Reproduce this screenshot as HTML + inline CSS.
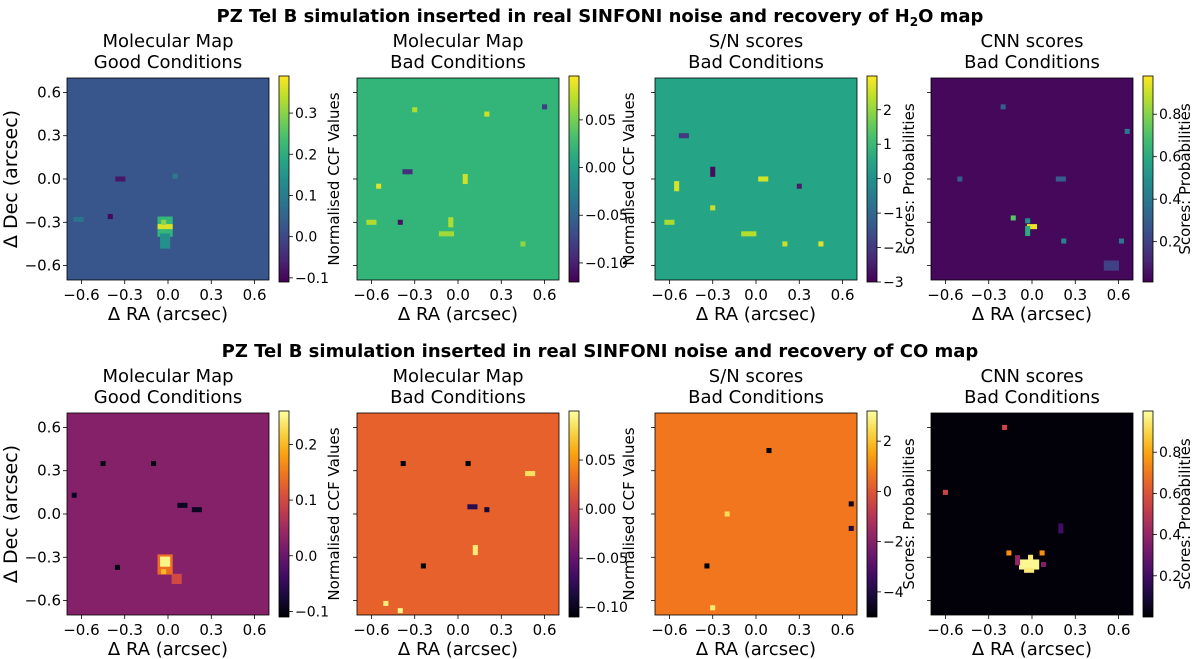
<!DOCTYPE html>
<html><head><meta charset="utf-8">
<style>
html,body{margin:0;padding:0;background:#fff;}
svg{display:block;font-family:"DejaVu Sans","Liberation Sans",sans-serif;}
</style></head>
<body>
<svg id="fig" width="1200" height="659" viewBox="0 0 1200 659" xmlns="http://www.w3.org/2000/svg">
<defs id="defs"></defs>
<text x="600" y="22" text-anchor="middle" font-size="18" font-weight="bold">PZ Tel B simulation inserted in real SINFONI noise and recovery of H<tspan font-size="12" dy="4">2</tspan><tspan dy="-4">O map</tspan></text>
<text x="600" y="357" text-anchor="middle" font-size="18" font-weight="bold">PZ Tel B simulation inserted in real SINFONI noise and recovery of CO map</text>
<g id="plots"></g>
</svg>
<script>
// ---- data ----
const raTicks = [-0.6, -0.3, 0.0, 0.3, 0.6];
const decTicks = [-0.6, -0.3, 0.0, 0.3, 0.6];
const panelTitles = [["Molecular Map","Good Conditions"],["Molecular Map","Bad Conditions"],["S/N scores","Bad Conditions"],["CNN scores","Bad Conditions"]];
const cbarLabels = ["Normalised CCF Values","Normalised CCF Values","Scores: Probabilities","Scores: Probabilities"];
const cmaps = ["viridis","inferno"];
const ranges = [[-0.11,0.39],[-0.12,0.096],[-3,2.98],[0.01,0.98],[-0.11,0.26],[-0.11,0.10],[-5,3.2],[0.0,1.0]];
const cbarTicks = [[-0.1,0.0,0.1,0.2,0.3],[-0.10,-0.05,0.00,0.05],[-3,-2,-1,0,1,2],[0.2,0.4,0.6,0.8],
                   [-0.1,0.0,0.1,0.2],[-0.10,-0.05,0.00,0.05],[-4,-2,0,2],[0.2,0.4,0.6,0.8]];
const cbarTickText = [["−0.1","0.0","0.1","0.2","0.3"],["−0.10","−0.05","0.00","0.05"],["−3","−2","−1","0","1","2"],["0.2","0.4","0.6","0.8"],
                      ["−0.1","0.0","0.1","0.2"],["−0.10","−0.05","0.00","0.05"],["−4","−2","0","2"],["0.2","0.4","0.6","0.8"]];
const background = [0.025, 0.022, 0.5, 0.03, 0.025, 0.025, 0.7, 0.01];
// features per map: [ra, dec, value, wCells, hCells]
const features = [
 [[-0.02,-0.33,0.22,3,4],[-0.02,-0.33,0.36,3,1],[-0.03,-0.30,0.3,1,1],[-0.02,-0.43,0.14,2,3],[-0.62,-0.28,0.08,2,1],[-0.4,-0.26,-0.1,1,1],[-0.33,0.0,-0.08,2,1],[0.05,0.02,0.1,1,1]],
 [[-0.55,-0.05,0.085,1,1],[-0.6,-0.3,0.07,2,1],[0.05,0.0,0.08,1,2],[-0.08,-0.38,0.065,3,1],[-0.05,-0.3,0.07,1,2],[0.2,0.45,0.08,1,1],[-0.4,-0.3,-0.11,1,1],[-0.3,0.48,0.07,1,1],[0.45,-0.45,0.06,1,1],[-0.35,0.05,-0.09,2,1],[0.6,0.5,-0.08,1,1]],
 [[-0.55,-0.05,2.6,1,2],[-0.6,-0.3,2.2,2,1],[0.05,0.0,2.6,2,1],[-0.05,-0.38,2.3,3,1],[-0.3,-0.2,2.5,1,1],[0.45,-0.45,2.7,1,1],[0.2,-0.45,2.5,1,1],[-0.3,0.05,-2.8,1,2],[0.3,-0.05,-2.5,1,1],[-0.5,0.3,-2,2,1]],
 [[0.0,-0.33,0.95,2,1],[-0.03,-0.36,0.6,1,2],[-0.03,-0.29,0.5,1,1],[-0.13,-0.27,0.72,1,1],[0.22,-0.43,0.45,1,1],[0.62,-0.43,0.4,1,1],[0.66,0.33,0.4,1,1],[0.55,-0.6,0.2,3,2],[0.2,0.0,0.3,2,1],[-0.5,0.0,0.3,1,1],[-0.2,0.5,0.3,1,1]],
 [[-0.02,-0.35,0.14,3,4],[-0.02,-0.33,0.25,2,2],[-0.03,-0.4,0.2,1,1],[0.06,-0.45,0.1,2,2],[-0.45,0.35,-0.1,1,1],[-0.1,0.35,-0.1,1,1],[0.1,0.06,-0.09,2,1],[0.2,0.03,-0.09,2,1],[-0.35,-0.37,-0.1,1,1],[-0.65,0.13,-0.09,1,1]],
 [[-0.38,0.35,-0.11,1,1],[0.07,0.35,-0.11,1,1],[0.1,0.05,-0.08,2,1],[0.2,0.03,-0.09,1,1],[-0.24,-0.36,-0.11,1,1],[0.12,-0.25,0.09,1,2],[0.5,0.28,0.085,2,1],[-0.5,-0.62,0.09,1,1],[-0.4,-0.67,0.095,1,1]],
 [[0.09,0.44,-4.8,1,1],[-0.34,-0.36,-5,1,1],[0.66,0.07,-4.5,1,1],[0.66,-0.1,-4,1,1],[-0.3,-0.65,2.8,1,1],[-0.2,0.0,2.5,1,1]],
 [[-0.02,-0.35,0.98,4,2],[-0.01,-0.3,0.95,1,1],[-0.02,-0.39,0.95,2,1],[-0.16,-0.27,0.75,1,1],[0.07,-0.27,0.75,1,1],[-0.1,-0.32,0.4,1,2],[0.08,-0.35,0.35,1,1],[-0.19,0.6,0.55,1,1],[-0.6,0.15,0.55,1,1],[0.2,-0.1,0.2,1,2]]
];

// ---- layout ----
const lefts = [67,357,655,931], tops = [78,413], S = 202, EXT = 0.7;
const cbarLabelX = [339,634,914,1190];
const NS = "http://www.w3.org/2000/svg";
const VIR = ["#440154","#482878","#3e4989","#31688e","#26828e","#1f9e89","#35b779","#6ece58","#b5de2b","#fde725"];
const INF = ["#000004","#1b0c41","#4a0c6b","#781c6d","#a52c60","#cf4446","#ed6925","#fb9b06","#f7d13d","#fcffa4"];
function hex(c){return [parseInt(c.substr(1,2),16),parseInt(c.substr(3,2),16),parseInt(c.substr(5,2),16)];}
function cmap(name,t){
  const st = name==="viridis"?VIR:INF; t=Math.max(0,Math.min(1,t));
  const p=t*(st.length-1), i=Math.min(Math.floor(p),st.length-2), f=p-i;
  const a=hex(st[i]), b=hex(st[i+1]);
  return "rgb("+a.map((v,k)=>Math.round(v+(b[k]-v)*f)).join(",")+")";
}
function el(tag,attrs,parent){const e=document.createElementNS(NS,tag);for(const k in attrs)e.setAttribute(k,attrs[k]);parent.appendChild(e);return e;}
const root=document.getElementById("plots"), defs=document.getElementById("defs");
const cell = 1.4/40;

for(let r=0;r<2;r++){
  for(let c=0;c<4;c++){
    const m=r*4+c, L=lefts[c], T=tops[r], cm=cmaps[r], rg=ranges[m];
    const xs=v=>L+(v+EXT)/(2*EXT)*S, ys=v=>T+(EXT-v)/(2*EXT)*S;
    const norm=v=>(v-rg[0])/(rg[1]-rg[0]);
    const g=el("g",{},root);
    
    
    const tt=el("text",{x:L+S/2,y:T-31,"text-anchor":"middle","font-size":"18"},g);
    
    
    tt.textContent=panelTitles[c][0];
    const t2=el("text",{x:L+S/2,y:T-10,"text-anchor":"middle","font-size":"18"},g);
    
    
    t2.textContent=panelTitles[c][1];
    const hm=el("g",{},g);
    
    
    el("rect",{x:L,y:T,width:S,height:S,fill:cmap(cm,norm(background[m]))},hm);
    features[m].forEach(f=>{
      const w=f[3]*cell, h=f[4]*cell;
      const rc=el("rect",{x:xs(f[0]-w/2),y:ys(f[1]+h/2),width:xs(w)-xs(0),height:ys(0)-ys(h),fill:cmap(cm,norm(f[2]))},hm);
      
      
    });
    el("rect",{x:L,y:T,width:S,height:S,fill:"none",stroke:"#000","stroke-width":"0.8"},g);
    raTicks.forEach(v=>{
      el("line",{x1:xs(v),x2:xs(v),y1:T+S,y2:T+S+4,stroke:"#000","stroke-width":"0.8"},g);
      const tl=el("text",{x:xs(v),y:T+S+20,"text-anchor":"middle","font-size":"15"},g);
      
      
      tl.textContent=(v<0?"−":"")+Math.abs(v).toFixed(1);
    });
    const xl=el("text",{x:L+S/2,y:T+S+40,"text-anchor":"middle","font-size":"18"},g);
    
    
    xl.textContent="Δ RA (arcsec)";
    decTicks.forEach(v=>{
      el("line",{x1:L-4,x2:L,y1:ys(v),y2:ys(v),stroke:"#000","stroke-width":"0.8"},g);
      if(c===0){
        const yl=el("text",{x:L-6,y:ys(v)+5,"text-anchor":"end","font-size":"15"},g);
        
        
        yl.textContent=(v<0?"−":"")+Math.abs(v).toFixed(1);
      }
    });
    if(c===0){
      const ya=el("text",{x:0,y:0,"text-anchor":"middle","font-size":"19",transform:"translate(17,"+(T+S/2)+") rotate(-90)"},g);
      
      
      ya.textContent="Δ Dec (arcsec)";
    }
    const gid="grad"+m;
    const lg=el("linearGradient",{id:gid,x1:"0",y1:"1",x2:"0",y2:"0"},defs);
    for(let k=0;k<=10;k++) el("stop",{offset:k/10,"stop-color":cmap(cm,k/10)},lg);
    const cx=L+S+10, cy=T-2, ch=S+4, cw=10;
    const cb=el("g",{},g);
    
    
    el("rect",{x:cx,y:cy,width:cw,height:ch,fill:"url(#"+gid+")",stroke:"#000","stroke-width":"0.8"},cb);
    const cys=v=>cy+ch-(v-rg[0])/(rg[1]-rg[0])*ch;
    cbarTicks[m].forEach((v,i)=>{
      el("line",{x1:cx+cw,x2:cx+cw+4,y1:cys(v),y2:cys(v),stroke:"#000","stroke-width":"0.8"},cb);
      const ct=el("text",{x:cx+cw+6,y:cys(v)+5,"font-size":"14"},cb);
      
      
      ct.textContent=cbarTickText[m][i];
    });
    const cl=el("text",{x:0,y:0,"text-anchor":"middle","font-size":"15",transform:"translate("+cbarLabelX[c]+","+(T+S/2)+") rotate(-90)"},g);
    
    
    cl.textContent=cbarLabels[c];
  }
}
</script>
</body></html>
